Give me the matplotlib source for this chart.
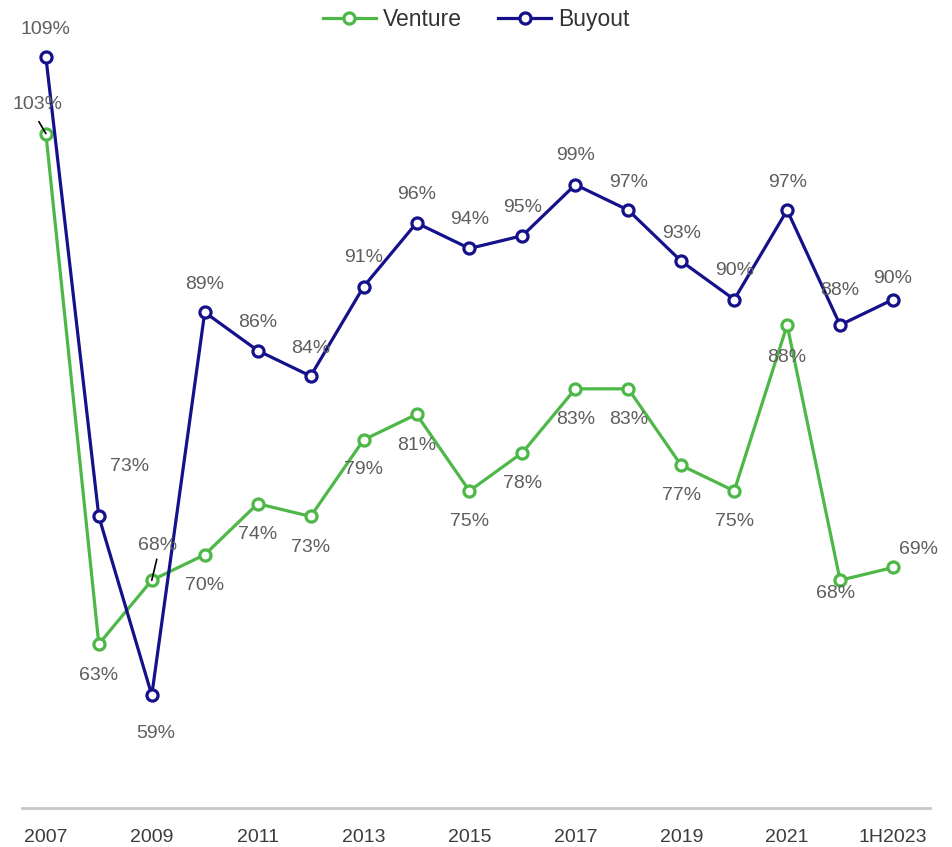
import matplotlib
matplotlib.use("Agg")
import matplotlib.pyplot as plt

years = ["2007", "2008", "2009", "2010", "2011", "2012", "2013", "2014", "2015",
         "2016", "2017", "2018", "2019", "2020", "2021", "2022", "1H2023"]
venture = [103, 63, 68, 70, 74, 73, 79, 81, 75, 78, 83, 83, 77, 75, 88, 68, 69]
buyout = [109, 73, 59, 89, 86, 84, 91, 96, 94, 95, 99, 97, 93, 90, 97, 88, 90]

GREEN = "#4DB848"
NAVY = "#14118A"
GRAY = "#5E5E5E"

plt.rcParams['font.family'] = ['Liberation Sans', 'DejaVu Sans']

fig = plt.figure(figsize=(9.52, 8.47), dpi=100)
ax = fig.add_axes([0.023, 0.046, 0.954, 0.954])
x = list(range(len(years)))

ax.plot(x, venture, color=GREEN, lw=2.3, marker='o', ms=8, mfc='white',
        mec=GREEN, mew=2.3, label='Venture', zorder=3)
ax.plot(x, buyout, color=NAVY, lw=2.3, marker='o', ms=8, mfc='white',
        mec=NAVY, mew=2.3, label='Buyout', zorder=3)

ax.set_xlim(-0.453, 16.70)
ax.set_ylim(50.15, 113.47)

# label offsets in pixels (dx, dy upward positive)
b_off = [(0, 28), (31, 50), (4, -38), (0, 28), (0, 28), (0, 28), (0, 29), (0, 28),
         (0, 29), (0, 28), (0, 29), (0, 28), (0, 28), (0, 29), (0, 28), (0, 35), (0, 21)]
v_off = [(-8, 29), (0, -31), (6, 35), (0, -31), (0, -31), (0, -31), (0, -30), (0, -31),
         (0, -31), (0, -31), (0, -31), (0, -31), (0, -30), (0, -31), (0, -32), (-5, -13), (25, 18)]

pt = 0.72
for i, v in enumerate(buyout):
    dx, dy = b_off[i]
    ax.annotate(f"{v}%", (i, v), xytext=(dx * pt, dy * pt), textcoords='offset points',
                ha='center', va='center', fontsize=14, color=GRAY, zorder=4)
for i, v in enumerate(venture):
    dx, dy = v_off[i]
    ax.annotate(f"{v}%", (i, v), xytext=(dx * pt, dy * pt), textcoords='offset points',
                ha='center', va='center', fontsize=14, color=GRAY, zorder=4)

# leader lines
ax.annotate("", (0, venture[0]), xytext=(-7 * pt, 12 * pt), textcoords='offset points',
            xycoords='data', arrowprops=dict(arrowstyle='-', color='black', lw=1.2,
                                             shrinkA=0, shrinkB=0), zorder=5)
ax.annotate("", (2, venture[2]), xytext=(5 * pt, 21 * pt), textcoords='offset points',
            xycoords='data', arrowprops=dict(arrowstyle='-', color='black', lw=1.2,
                                             shrinkA=0, shrinkB=0), zorder=5)

tick_idx = x[::2]
ax.set_xticks(tick_idx)
ax.set_xticklabels([years[i] for i in tick_idx])
ax.tick_params(axis='x', length=0, labelsize=14, labelcolor='#3C3C3C', pad=15)
ax.set_yticks([])
for s in ['top', 'right', 'left']:
    ax.spines[s].set_visible(False)
ax.spines['bottom'].set_color('#C8C8C8')
ax.spines['bottom'].set_linewidth(2)

fig.legend(loc='upper center', bbox_to_anchor=(0.5, 1.015), ncol=2, frameon=False,
           fontsize=16.5, handlelength=2.3, columnspacing=1.6, handletextpad=0.3,
           labelcolor='#333333')

fig.savefig("out.png", dpi=100)
